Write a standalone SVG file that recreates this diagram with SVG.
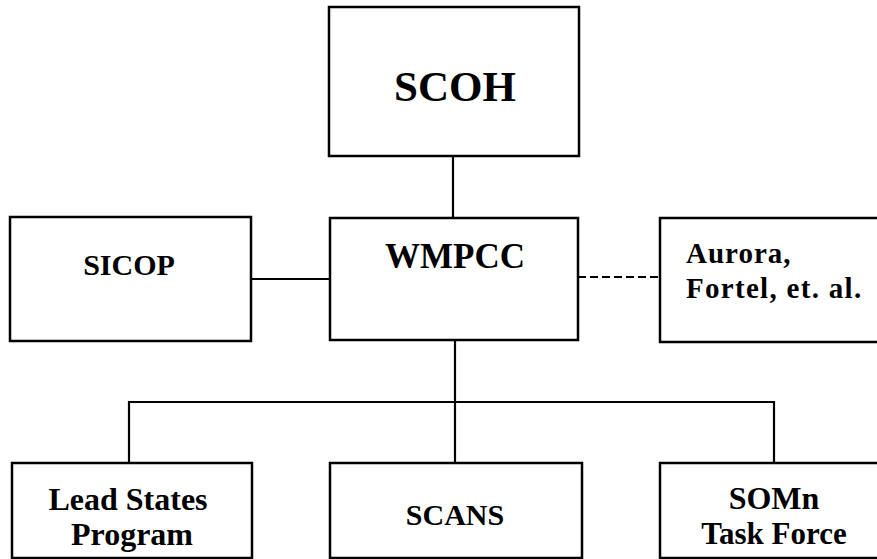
<svg xmlns="http://www.w3.org/2000/svg" width="877" height="559" viewBox="0 0 877 559">
<style>
.box{fill:#fff;stroke:#000;stroke-width:2.5}
.ln{fill:none;stroke:#000;stroke-width:2.2}
.dash{stroke-dasharray:8 4}
.t{font-family:'Liberation Serif','Times New Roman',serif;font-weight:700;fill:#000;text-anchor:middle}
.s{text-anchor:start}
</style>
<rect width="877" height="559" fill="#fff"/>
<g id="connectors">
<line class="ln" x1="453" y1="156" x2="453" y2="218"/>
<line class="ln" x1="251" y1="279" x2="330" y2="279"/>
<line class="ln dash" x1="578" y1="277" x2="660" y2="277"/>
<line class="ln" x1="455" y1="340" x2="455" y2="463"/>
<polyline class="ln" points="129,463 129,402 774,402 774,463"/>
</g>
<g id="scoh">
<rect class="box" x="329" y="7" width="250" height="149"/>
<text class="t" x="455" y="101" font-size="43">SCOH</text>
</g>
<g id="wmpcc">
<rect class="box" x="330" y="218" width="248" height="122"/>
<text class="t" x="455" y="268" font-size="35">WMPCC</text>
</g>
<g id="sicop">
<rect class="box" x="10" y="217" width="241" height="124"/>
<text class="t" x="129" y="275" font-size="30">SICOP</text>
</g>
<g id="aurora">
<rect class="box" x="660" y="218" width="240" height="124"/>
<text class="t s" x="686" y="263" font-size="29" letter-spacing="1">Aurora,</text>
<text class="t s" x="686" y="298" font-size="29" letter-spacing="1.3">Fortel, et. al.</text>
</g>
<g id="lead-states">
<rect class="box" x="12" y="463" width="240" height="95"/>
<text class="t" x="128" y="510" font-size="32">Lead States</text>
<text class="t" x="132" y="545" font-size="32">Program</text>
</g>
<g id="scans">
<rect class="box" x="330" y="463" width="252" height="95"/>
<text class="t" x="455" y="525" font-size="30">SCANS</text>
</g>
<g id="somn">
<rect class="box" x="660" y="463" width="240" height="95"/>
<text class="t" x="774" y="509" font-size="32">SOMn</text>
<text class="t" x="774" y="544" font-size="31">Task Force</text>
</g>
</svg>
